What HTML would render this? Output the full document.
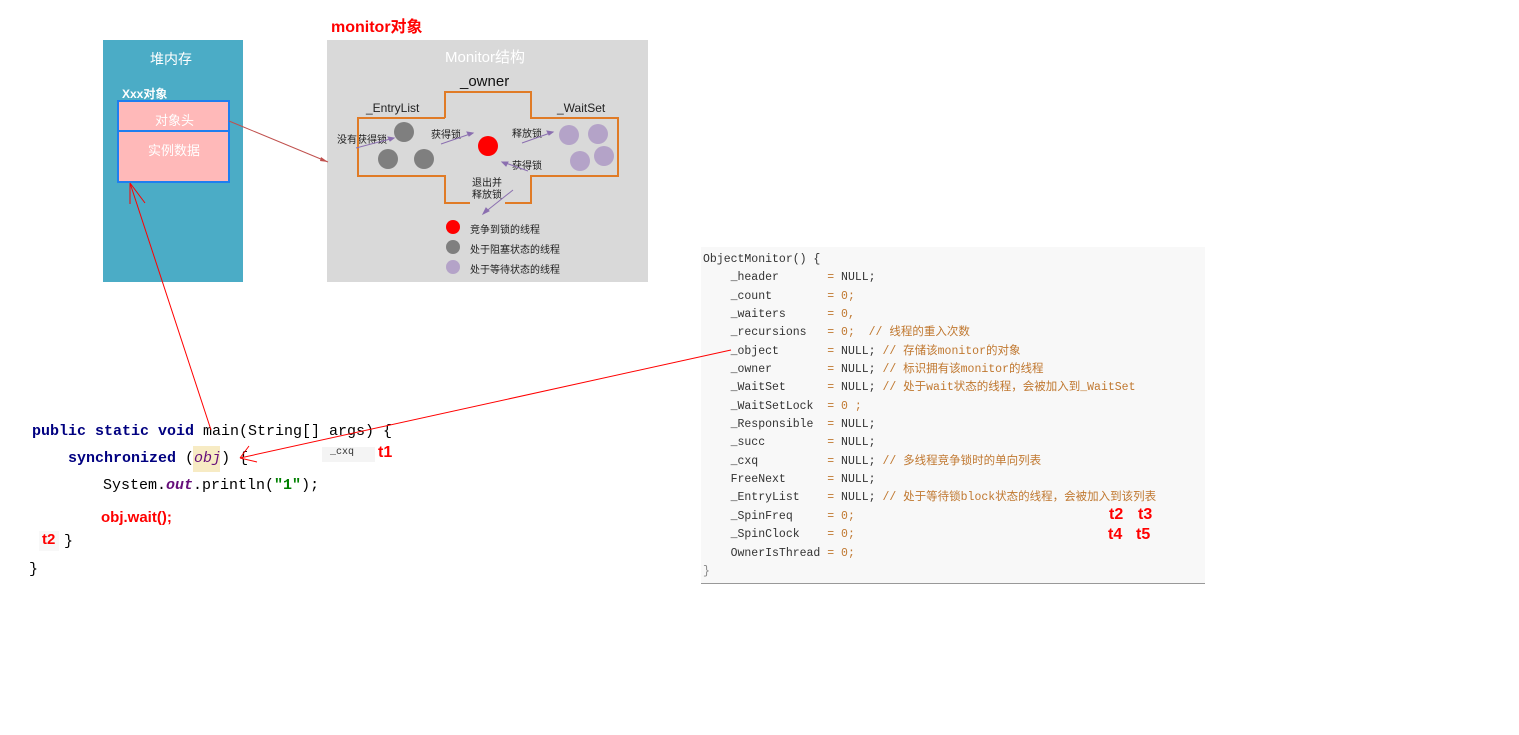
<!DOCTYPE html>
<html><head><meta charset="utf-8"><style>
body{margin:0;width:1519px;height:735px;background:#fff;position:relative;overflow:hidden;font-family:"Liberation Sans","Noto Sans CJK SC",sans-serif}
.a{position:absolute;white-space:pre}
.cm{font-family:"Liberation Mono","Noto Sans CJK SC",monospace;font-size:11.5px;color:#333;line-height:18.35px}
.o{color:#c07830}
.lc{font-family:"Liberation Mono","Noto Sans CJK SC",monospace;font-size:15px;color:#000}
.k{color:#000080;font-weight:bold}
.r{color:#f00;font-weight:bold}
</style></head><body>
<!-- heap -->
<div class="a" style="left:103px;top:40px;width:140px;height:242px;background:#4bacc6"></div>
<div class="a" style="left:150px;top:49px;color:#fff;font-size:14px">堆内存</div>
<div class="a" style="left:122px;top:85px;color:#fff;font-size:12px;font-weight:bold">Xxx对象</div>
<div class="a" style="left:117px;top:100px;width:109px;height:79px;background:#ffb9b9;border:2px solid #1e7ef0"></div>
<div class="a" style="left:117px;top:130px;width:113px;height:2px;background:#1e7ef0"></div>
<div class="a" style="left:155px;top:110px;color:#fff;font-size:13px">对象头</div>
<div class="a" style="left:148px;top:140px;color:#fff;font-size:13px">实例数据</div>
<!-- monitor -->
<div class="a" style="left:331px;top:13px;color:#f00;font-size:16px;font-weight:bold">monitor对象</div>
<div class="a" style="left:327px;top:40px;width:321px;height:242px;background:#d9d9d9"></div>
<div class="a" style="left:445px;top:46px;color:#fff;font-size:15px">Monitor结构</div>
<div class="a" style="left:460px;top:73px;color:#111;font-size:15px">_owner</div>
<div class="a" style="left:366px;top:101px;color:#222;font-size:12px">_EntryList</div>
<div class="a" style="left:557px;top:101px;color:#222;font-size:12px">_WaitSet</div>
<!-- object monitor code -->
<div class="a" style="left:701px;top:247px;width:504px;height:336px;background:#f8f8f8;border-bottom:1px solid #999"></div>
<div class="a cm" style="left:703px;top:251px">ObjectMonitor() {
    _header       <span class="o">=</span> NULL;
    _count        <span class="o">= 0;</span>
    _waiters      <span class="o">= 0,</span>
    _recursions   <span class="o">= 0;  // 线程的重入次数</span>
    _object       <span class="o">=</span> NULL; <span class="o">// 存储该monitor的对象</span>
    _owner        <span class="o">=</span> NULL; <span class="o">// 标识拥有该monitor的线程</span>
    _WaitSet      <span class="o">=</span> NULL; <span class="o">// 处于wait状态的线程，会被加入到_WaitSet</span>
    _WaitSetLock  <span class="o">= 0 ;</span>
    _Responsible  <span class="o">=</span> NULL;
    _succ         <span class="o">=</span> NULL;
    _cxq          <span class="o">=</span> NULL; <span class="o">// 多线程竞争锁时的单向列表</span>
    FreeNext      <span class="o">=</span> NULL;
    _EntryList    <span class="o">=</span> NULL; <span class="o">// 处于等待锁block状态的线程，会被加入到该列表</span>
    _SpinFreq     <span class="o">= 0;</span>
    _SpinClock    <span class="o">= 0;</span>
    OwnerIsThread <span class="o">= 0;</span>
<span style="color:#888">}</span></div>
<div class="a r" style="left:1109px;top:506px;font-size:16px">t2</div>
<div class="a r" style="left:1138px;top:506px;font-size:16px">t3</div>
<div class="a r" style="left:1108px;top:526px;font-size:16px">t4</div>
<div class="a r" style="left:1136px;top:526px;font-size:16px">t5</div>
<!-- java code -->
<div class="a" style="left:193px;top:446px;width:27px;height:26px;background:#f7ebc4"></div>
<div class="a lc" style="left:32px;top:423px"><span class="k">public static void</span> main(String[] args) {</div>
<div class="a lc" style="left:68px;top:450px"><span class="k">synchronized</span> (<i style="color:#660e7a">obj</i>) {</div>
<div class="a lc" style="left:103px;top:477px">System.<i style="color:#660e7a;font-weight:bold">out</i>.println(<b style="color:#008000">"1"</b>);</div>
<div class="a r" style="left:101px;top:509px;font-size:15px">obj.wait();</div>
<div class="a" style="left:39px;top:531px;width:20px;height:20px;background:#f8f8f8"></div>
<div class="a r" style="left:42px;top:531px;font-size:15px">t2</div>
<div class="a lc" style="left:64px;top:533px">}</div>
<div class="a lc" style="left:29px;top:561px">}</div>
<div class="a" style="left:322px;top:447px;width:53px;height:15px;background:#f4f4f4"></div>
<div class="a" style="left:330px;top:447px;font-family:'Liberation Mono',monospace;font-size:10px;color:#333">_cxq</div>
<div class="a r" style="left:378px;top:444px;font-size:16px">t1</div>
<svg class="a" style="left:0;top:0;z-index:5" width="1519" height="735">
<g fill="none" stroke="#e07b26" stroke-width="2">
<path d="M445 118H358V176H445V203H470 M505 203H531V176H618V118H531V92H445V118"/>
</g>
<g fill="#7f7f7f"><circle cx="404" cy="132" r="10"/><circle cx="388" cy="159" r="10"/><circle cx="424" cy="159" r="10"/></g>
<circle cx="488" cy="146" r="10" fill="#f00"/>
<g fill="#b4a3c8"><circle cx="569" cy="135" r="10"/><circle cx="598" cy="134" r="10"/><circle cx="580" cy="161" r="10"/><circle cx="604" cy="156" r="10"/></g>
<circle cx="453" cy="227" r="7" fill="#f00"/>
<circle cx="453" cy="247" r="7" fill="#7f7f7f"/>
<circle cx="453" cy="267" r="7" fill="#b4a3c8"/>
<g stroke="#8b6fb0" stroke-width="1" fill="#8b6fb0">
<line x1="356" y1="148" x2="394" y2="138"/><path d="M394 138l-6 -1l2 4z"/>
<line x1="441" y1="144" x2="473" y2="133"/><path d="M473 133l-6 -1l2 4z"/>
<line x1="522" y1="143" x2="553" y2="132"/><path d="M553 132l-6 -1l2 4z"/>
<line x1="528" y1="171" x2="503" y2="162"/><path d="M502 162l6 0l-2 4z"/>
<line x1="513" y1="190" x2="484" y2="213"/><path d="M483 214l3 -6l3 3z"/>
</g>
<line x1="229" y1="121" x2="328" y2="162" stroke="#c0504d" stroke-width="1"/>
<path d="M328 162l-7 -5l-1 4z" fill="#c0504d"/>
<g stroke="#f00" stroke-width="1" fill="none">
<line x1="211" y1="430" x2="130" y2="183"/>
<path d="M130 183L130 204 M130 183L145 203"/>
<line x1="731" y1="350" x2="240" y2="458"/>
<path d="M240 458L249 446 M240 458L257 462"/>
</g>
</svg>
<div class="a" style="left:337px;top:131px;font-size:10px;color:#222">没有获得锁</div>
<div class="a" style="left:431px;top:126px;font-size:10px;color:#222">获得锁</div>
<div class="a" style="left:512px;top:125px;font-size:10px;color:#222">释放锁</div>
<div class="a" style="left:512px;top:157px;font-size:10px;color:#222">获得锁</div>
<div class="a" style="left:472px;top:178px;font-size:10px;color:#222;line-height:12px">退出并
释放锁</div>
<div class="a" style="left:470px;top:221px;font-size:10px;color:#222">竞争到锁的线程</div>
<div class="a" style="left:470px;top:241px;font-size:10px;color:#222">处于阻塞状态的线程</div>
<div class="a" style="left:470px;top:261px;font-size:10px;color:#222">处于等待状态的线程</div>
</body></html>
